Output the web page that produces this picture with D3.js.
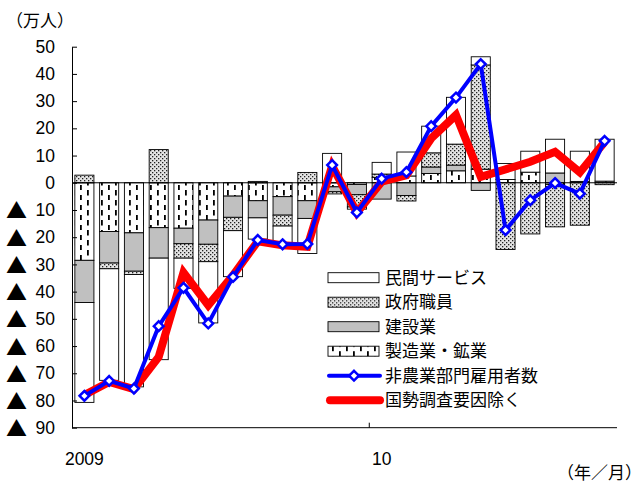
<!DOCTYPE html>
<html>
<head>
<meta charset="utf-8">
<script src="https://cdn.jsdelivr.net/npm/d3@7"></script>
<style>
  body { margin: 0; background: #fff; }
  svg { display: block; }
  text { font-family: "Liberation Sans", Arial, "Noto Sans CJK JP", sans-serif; fill: #000; }
  .jp { font-family: "Noto Sans CJK JP", sans-serif; }
</style>
</head>
<body>
<div id="chart"></div>
<script>
// 2009/1 - 2010/10, 前月差（万人）
let months = ['2009/1','2009/2','2009/3','2009/4','2009/5','2009/6','2009/7','2009/8','2009/9','2009/10','2009/11','2009/12',
              '2010/1','2010/2','2010/3','2010/4','2010/5','2010/6','2010/7','2010/8','2010/9','2010/10']
let xTickLabels = {'2009/1': '2009', '2010/1': '10'}
let yTicks = [50, 40, 30, 20, 10, 0, -10, -20, -30, -40, -50, -60, -70, -80, -90]

let manufacturing = [-28.5, -17.9, -18.4, -16.5, -16.7, -13.7, -4.9, -6.6, -5.1, -6.6, -1.5, -0.6,
                     2.0, 2.5, 3.4, 4.4, 5.0, 1.2, 3.9, -0.6, 0.5, 0.6]
let construction  = [-15.5, -11.6, -14.1, -11.2, -5.7, -8.9, -7.8, -6.3, -6.8, -6.5, -1.8, -3.8,
                     -6.0, -4.7, 2.4, 2.1, -2.8, 0, 0, 3.6, 0, 0]
let government    = [2.8, -2.1, -1.2, 12.2, -5.3, -6.4, -4.9, 0.5, -4.0, 3.8, -0.8, -4.5,
                     1.2, -2.0, 5.2, 7.7, 38.3, -24.5, -18.8, -15.6, -15.6, -0.7]
let services      = [-36.7, -41.0, -41.3, -37.3, -11.1, -22.5, -16.9, -7.8, -6.6, -12.9, 10.8, -0.8,
                     4.3, 8.8, 9.8, 17.2, 3.0, 5.9, 7.7, 12.4, 11.1, 15.4]
let payroll       = [-78.3, -72.8, -75.6, -52.7, -38.6, -51.7, -34.6, -21.0, -22.6, -22.5, 6.5, -10.9,
                     1.5, 3.9, 20.8, 31.3, 43.6, -17.4, -6.4, -0.1, -4.0, 15.4]
let exCensus      = [-78.0, -73.2, -75.8, -64.0, -33.0, -45.0, -34.0, -21.5, -23.0, -23.5, 6.2, -11.0,
                     0.4, 2.8, 16.3, 24.9, 2.2, 4.9, 7.7, 11.4, 3.8, 15.0]

let seriesKeys = ['mfg', 'con', 'gov', 'svc']
let seriesNames = {svc: '民間サービス', gov: '政府職員', con: '建設業', mfg: '製造業・鉱業'}
let seriesFill = {svc: '#ffffff', gov: 'url(#dots)', con: '#c0c0c0', mfg: 'url(#dash)'}

let table = months.map(function(m, i) {
  return {month: m, mfg: manufacturing[i], con: construction[i], gov: government[i], svc: services[i],
          total: payroll[i], ex: exCensus[i]}
})

let W = 642, H = 486
let svg = d3.select('#chart').append('svg').attr('width', W).attr('height', H)

// patterns
let defs = svg.append('defs')
let dots = defs.append('pattern').attr('id', 'dots').attr('patternUnits', 'userSpaceOnUse')
  .attr('width', 4).attr('height', 4)
dots.append('rect').attr('width', 4).attr('height', 4).attr('fill', '#e4e4e4')
dots.append('rect').attr('x', 0).attr('y', 0).attr('width', 1.3).attr('height', 1.3).attr('fill', '#222')
dots.append('rect').attr('x', 2).attr('y', 2).attr('width', 1.3).attr('height', 1.3).attr('fill', '#222')

let dash = defs.append('pattern').attr('id', 'dash').attr('patternUnits', 'userSpaceOnUse')
  .attr('width', 14).attr('height', 10)
dash.append('rect').attr('width', 14).attr('height', 10).attr('fill', '#fff')
dash.append('rect').attr('x', 3).attr('y', 0).attr('width', 1.8).attr('height', 5.5).attr('fill', '#000')
dash.append('rect').attr('x', 10).attr('y', 5).attr('width', 1.8).attr('height', 5.5).attr('fill', '#000')

let x = d3.scaleBand()
  .domain(months)
  .range([72, 617])
  .paddingInner(0.23)
  .paddingOuter(0.115)

let y = d3.scaleLinear()
  .domain([-90, 50])
  .range([427.7, 46.7])

// stacked bars
let stacked = d3.stack().keys(seriesKeys).offset(d3.stackOffsetDiverging)(table)

svg.append('g').selectAll('g')
  .data(stacked)
  .enter().append('g')
    .attr('fill', function(s) { return seriesFill[s.key] })
  .selectAll('rect')
  .data(function(s) { return s })
  .enter().append('rect')
    .attr('x', function(d) { return x(d.data.month) })
    .attr('width', x.bandwidth())
    .attr('y', function(d) { return y(Math.max(d[0], d[1])) })
    .attr('height', function(d) { return Math.abs(y(d[0]) - y(d[1])) })
    .attr('stroke', '#000')
    .attr('stroke-width', 0.9)

// zero line
svg.append('line')
  .attr('x1', 72).attr('x2', 617)
  .attr('y1', y(0)).attr('y2', y(0))
  .attr('stroke', '#000').attr('stroke-width', 1)

// y axis
let yAxis = svg.append('g')
  .attr('transform', 'translate(72,0)')
  .call(d3.axisLeft(y).tickValues(yTicks).tickSizeInner(-5).tickSizeOuter(0).tickPadding(17)
    .tickFormat(function(d) { return Math.abs(d) }))
yAxis.select('.domain').attr('stroke', '#000')
yAxis.selectAll('.tick line').attr('stroke', '#000')
yAxis.selectAll('.tick text').attr('font-size', 17.5).attr('fill', '#000')
  .style('font-family', '"Liberation Sans", Arial, sans-serif')
yAxis.selectAll('.tick').filter(function(d) { return d < 0 })
  .append('text')
    .attr('class', 'jp')
    .attr('x', -66)
    .attr('dy', '0.38em')
    .attr('font-size', 21)
    .attr('text-anchor', 'start')
    .text('▲')

// x axis
svg.append('line')
  .attr('x1', 72).attr('x2', 617)
  .attr('y1', y(-90)).attr('y2', y(-90))
  .attr('stroke', '#000')
let yearStart = x('2010/1') - x.step() * x.paddingInner() / 2
svg.append('line')
  .attr('x1', yearStart).attr('x2', yearStart)
  .attr('y1', y(-90)).attr('y2', y(-90) - 5)
  .attr('stroke', '#000')

svg.append('g').selectAll('text')
  .data(months.filter(function(m) { return xTickLabels[m] }))
  .enter().append('text')
    .attr('x', function(m) { return x(m) + x.bandwidth() / 2 })
    .attr('y', 465)
    .attr('text-anchor', 'middle')
    .attr('font-size', 17.5)
    .text(function(m) { return xTickLabels[m] })

// lines
let cx = function(d) { return x(d.month) + x.bandwidth() / 2 }

svg.append('path')
  .datum(table)
  .attr('fill', 'none')
  .attr('stroke', '#ff0000')
  .attr('stroke-width', 8)
  .attr('stroke-linejoin', 'miter')
  .attr('d', d3.line().x(cx).y(function(d) { return y(d.ex) }))

svg.append('path')
  .datum(table)
  .attr('fill', 'none')
  .attr('stroke', '#0000ff')
  .attr('stroke-width', 4)
  .attr('stroke-linejoin', 'miter')
  .attr('d', d3.line().x(cx).y(function(d) { return y(d.total) }))

let diamond = d3.symbol().type(d3.symbolDiamond2).size(60)
svg.append('g').selectAll('path')
  .data(table)
  .enter().append('path')
    .attr('transform', function(d) { return 'translate(' + cx(d) + ',' + y(d.total) + ')' })
    .attr('d', diamond)
    .attr('fill', '#fff')
    .attr('stroke', '#0000ff')
    .attr('stroke-width', 2.5)

// legend
let legendRows = ['svc', 'gov', 'con', 'mfg', 'total', 'ex']
let legendNames = {total: '非農業部門雇用者数', ex: '国勢調査要因除く'}
let legend = svg.append('g')
legendRows.forEach(function(k, i) {
  let cy = 277.7 + i * 24.5
  let g = legend.append('g').attr('transform', 'translate(0,' + cy + ')')
  if (seriesFill[k]) {
    g.append('rect').attr('x', 328).attr('y', -5).attr('width', 51).attr('height', 10)
      .attr('fill', seriesFill[k]).attr('stroke', '#000').attr('stroke-width', 0.9)
  } else if (k == 'total') {
    g.append('line').attr('x1', 329).attr('x2', 380).attr('stroke', '#0000ff')
      .attr('stroke-width', 4).attr('stroke-linecap', 'round')
    g.append('path').attr('transform', 'translate(354,0)').attr('d', diamond)
      .attr('fill', '#fff').attr('stroke', '#0000ff').attr('stroke-width', 2.5)
  } else {
    g.append('line').attr('x1', 330).attr('x2', 380).attr('stroke', '#ff0000')
      .attr('stroke-width', 8).attr('stroke-linecap', 'round')
  }
  g.append('text').attr('class', 'jp').attr('x', 385).attr('y', 6)
    .attr('font-size', 17)
    .text(seriesNames[k] || legendNames[k])
})

// unit labels
svg.append('text').attr('class', 'jp').attr('x', 6).attr('y', 27).attr('font-size', 17).text('（万人）')
svg.append('text').attr('class', 'jp').attr('x', 642).attr('y', 479).attr('font-size', 17)
  .attr('text-anchor', 'end').text('（年／月）')
</script>
</body>
</html>
